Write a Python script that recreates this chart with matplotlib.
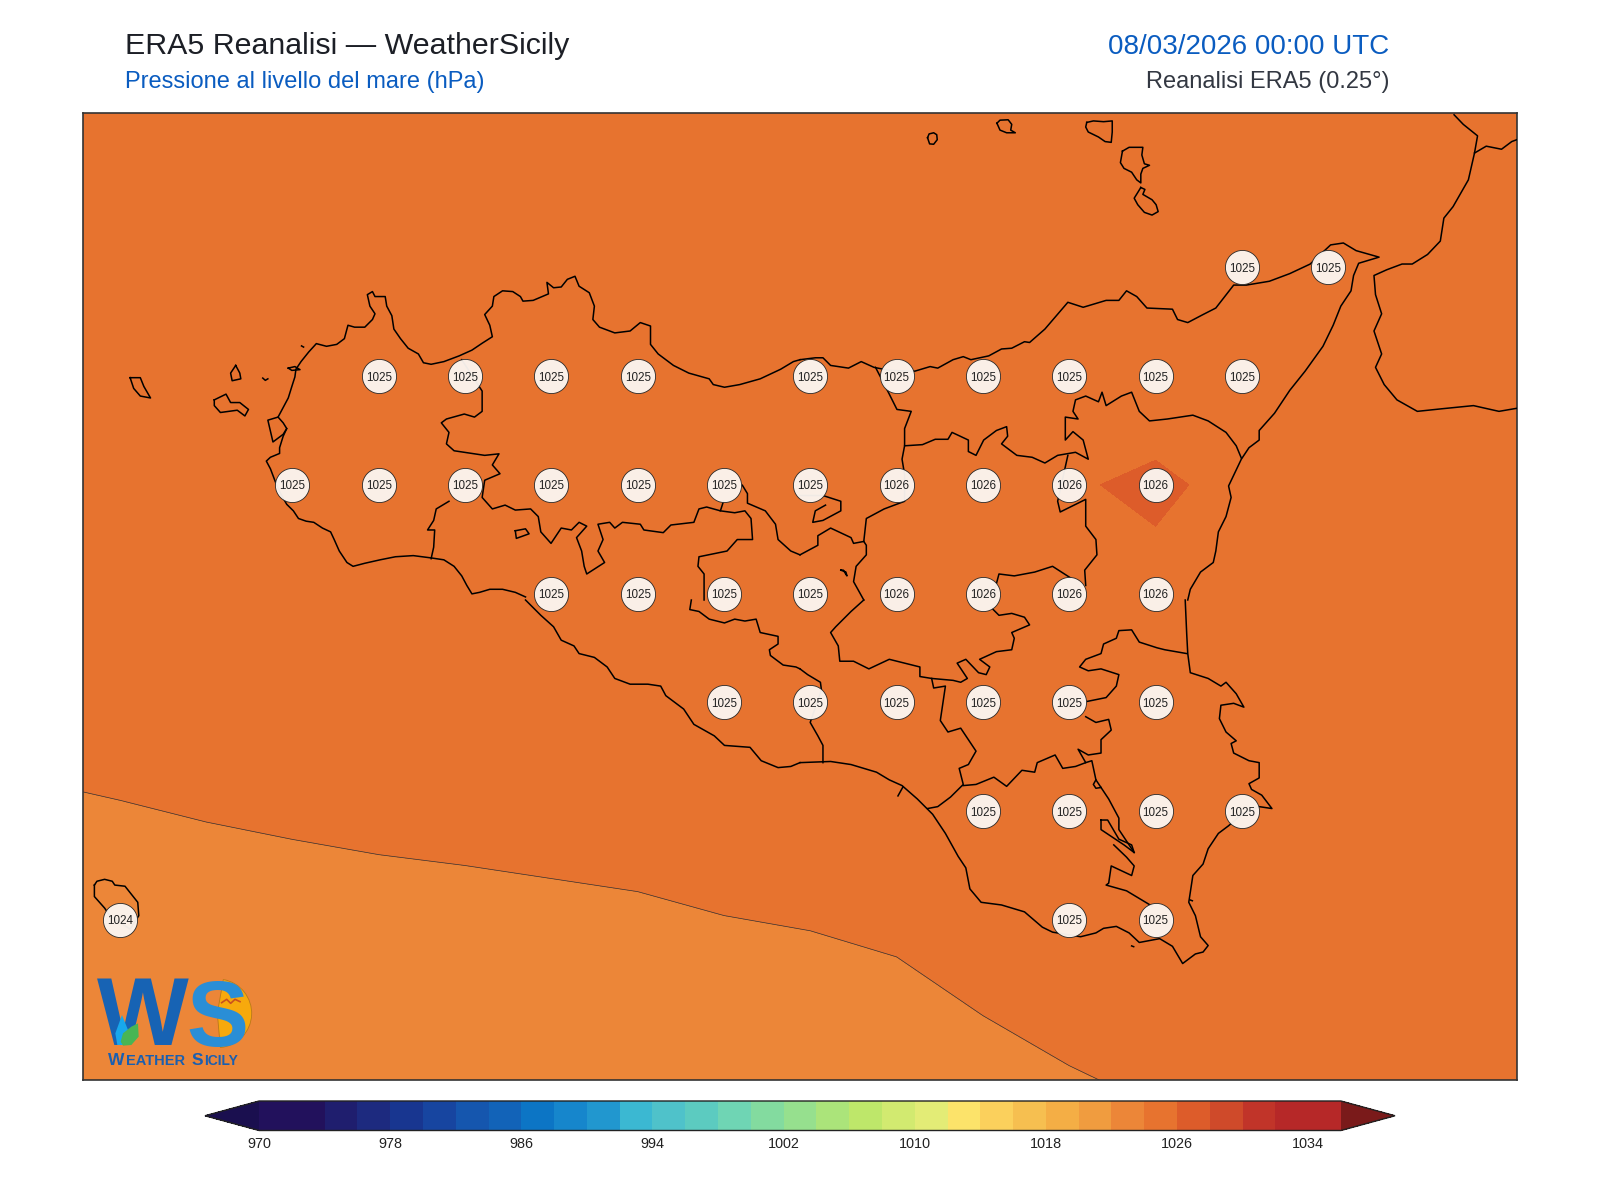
import numpy as np
import matplotlib
matplotlib.use("Agg")
import matplotlib.pyplot as plt
from matplotlib.colors import ListedColormap, BoundaryNorm
from matplotlib.patches import Polygon, Wedge

plt.rcParams["font.family"] = ["Liberation Sans", "DejaVu Sans"]

W, H = 1600, 1200
AX_L, AX_R, AX_T, AX_B = 82.6, 1517.0, 113.3, 1080.0
LON_MIN, LON_MAX = 11.892, 16.0472
LAT_MIN, LAT_MAX = 36.382, 38.604

# ---- pressure field (0.25 deg grid) ----
lons = [11.75, 12.0, 12.25, 12.5, 12.75, 13.0, 13.25, 13.5, 13.75, 14.0,
        14.25, 14.5, 14.75, 15.0, 15.25, 15.5, 15.75, 16.0, 16.25]
lats = [36.25, 36.5, 36.75, 37.0, 37.25, 37.5, 37.75, 38.0, 38.25, 38.5, 38.75]
p_3625 = [1022.36, 1022.45, 1022.55, 1022.63, 1022.70, 1022.75, 1022.81, 1022.87, 1022.98, 1023.05,
          1023.17, 1023.44, 1023.67, 1023.86, 1024.20, 1024.30, 1024.40, 1024.50, 1024.50]
p_3650 = [1022.86, 1022.95, 1023.05, 1023.13, 1023.20, 1023.25, 1023.31, 1023.37, 1023.48, 1023.55,
          1023.67, 1023.94, 1024.17, 1024.36, 1024.70, 1024.80, 1024.90, 1025.00, 1025.00]
p_3675 = [1023.36, 1023.45, 1023.55, 1023.63, 1023.70, 1023.75, 1023.81, 1023.87, 1023.98, 1024.05,
          1024.17, 1024.44, 1024.67, 1024.86, 1025.00, 1025.00, 1025.00, 1025.00, 1025.00]
p_3700 = [1023.86, 1023.95, 1024.05, 1024.13, 1024.20, 1024.25, 1024.31, 1024.37, 1024.48, 1024.55,
          1024.67, 1024.94, 1025.10, 1025.10, 1025.10, 1025.00, 1025.00, 1025.00, 1025.00]
p_3725 = [1024.36, 1024.45, 1024.55, 1024.63, 1024.70, 1024.75, 1024.81, 1024.87, 1024.98, 1025.05,
          1025.17, 1025.20, 1025.25, 1025.30, 1025.20, 1025.10, 1025.00, 1024.90, 1024.90]
p_3750 = [1024.86, 1024.95, 1025.05, 1025.10, 1025.15, 1025.18, 1025.20, 1025.25, 1025.30, 1025.40,
          1025.55, 1025.65, 1025.70, 1025.51, 1025.30, 1025.20, 1025.10, 1025.00, 1025.00]
p_3775 = [1025.20, 1025.20, 1025.25, 1025.30, 1025.30, 1025.30, 1025.30, 1025.35, 1025.40, 1025.45,
          1025.55, 1025.60, 1025.83, 1026.30, 1025.52, 1025.30, 1025.20, 1025.10, 1025.00]
p_3800 = [1025.00, 1025.00, 1025.05, 1025.10, 1025.10, 1025.10, 1025.15, 1025.15, 1025.20, 1025.20,
          1025.20, 1025.20, 1025.20, 1024.97, 1025.20, 1025.10, 1025.00, 1025.00, 1025.00]
p_3825 = [1024.90, 1024.90, 1024.90, 1024.95, 1025.00, 1025.00, 1025.00, 1025.00, 1025.00, 1025.05,
          1025.05, 1025.05, 1025.05, 1025.05, 1025.05, 1025.05, 1025.00, 1025.00, 1025.00]
p_3850 = [1024.90] * 19
p_3875 = [1024.90] * 19

# ---- grid point labels ----
label_lon = [15.25, 15.5,
             12.75, 13.0, 13.25, 13.5, 14.0, 14.25, 14.5, 14.75, 15.0, 15.25,
             12.5, 12.75, 13.0, 13.25, 13.5, 13.75, 14.0, 14.25, 14.5, 14.75, 15.0,
             13.25, 13.5, 13.75, 14.0, 14.25, 14.5, 14.75, 15.0,
             13.75, 14.0, 14.25, 14.5, 14.75, 15.0,
             14.5, 14.75, 15.0, 15.25,
             12.0, 14.75, 15.0]
label_lat = [38.25] * 2 + [38.0] * 10 + [37.75] * 11 + [37.5] * 8 + [37.25] * 6 + [37.0] * 4 + [36.75] * 3
label_val = [1025, 1025,
             1025, 1025, 1025, 1025, 1025, 1025, 1025, 1025, 1025, 1025,
             1025, 1025, 1025, 1025, 1025, 1025, 1025, 1026, 1026, 1026, 1026,
             1025, 1025, 1025, 1025, 1026, 1026, 1026, 1026,
             1025, 1025, 1025, 1025, 1025, 1025,
             1025, 1025, 1025, 1025,
             1024, 1025, 1025]

# ---- colour scale ----
levels = list(range(970, 1038, 2))
band_colors = ["#22115c", "#22115c", "#1f1e6e", "#1d2a7f", "#183690", "#1745a0", "#1556ae", "#1263b8",
               "#0c75c5", "#1686cc", "#2197cf", "#3bb8d2", "#4fc2ca", "#5ccbc0", "#6fd5b4", "#83db9f",
               "#96e08e", "#abe47a", "#bee76a", "#d2ea70", "#e3ec76", "#fce36a", "#fbd05c", "#f6bf50",
               "#f4ae45", "#f09c3f", "#ec8638", "#e7732f", "#dd5c2a", "#cf4a2a", "#c13429", "#b62828",
               "#b62828"]
cbar_ticks = [970, 978, 986, 994, 1002, 1010, 1018, 1026, 1034]

# ---- outlines, one list per quarter of the image ----
NW_COAST = [
    [(1030, 1560), (1010, 1548), (985, 1540), (960, 1540), (940, 1548), (925, 1552), (915, 1530), (905, 1505),
     (890, 1480), (870, 1463), (845, 1458), (810, 1452), (775, 1455), (745, 1463), (715, 1472), (692, 1480),
     (680, 1470), (665, 1440), (655, 1410), (648, 1390), (632, 1380), (615, 1365), (600, 1362), (585, 1355),
     (575, 1335), (562, 1318), (550, 1290), (540, 1260), (530, 1225), (522, 1205), (530, 1195), (548, 1185),
     (548, 1170), (555, 1140), (562, 1120), (555, 1105), (545, 1090), (555, 1065), (565, 1040), (572, 1010),
     (578, 985), (580, 965), (590, 945), (605, 920), (620, 898), (640, 905), (660, 900), (675, 885), (682, 850),
     (695, 855), (715, 855), (730, 835), (735, 820), (725, 800), (720, 770), (730, 762), (735, 775), (755, 775),
     (758, 800), (768, 825), (772, 860), (785, 885), (800, 910), (820, 925), (830, 948), (845, 952), (870, 945),
     (900, 930), (925, 915), (945, 897), (965, 880), (960, 850), (950, 822), (965, 800), (968, 775), (985, 760),
     (1005, 762), (1020, 775), (1025, 787), (1045, 785), (1075, 768), (1072, 738), (1085, 752), (1100, 750),
     (1112, 730), (1127, 722), (1135, 748), (1155, 765), (1165, 800), (1162, 835), (1175, 855), (1205, 870),
     (1235, 865), (1255, 843), (1275, 852), (1275, 900), (1290, 925), (1320, 955), (1350, 975), (1390, 990),
     (1398, 1005), (1420, 1012), (1450, 1005), (1490, 990), (1530, 965), (1555, 945), (1568, 940)],
    [(545, 1090), (525, 1098), (535, 1155), (555, 1135), (562, 1120)],
    [(255, 987), (275, 987), (282, 1010), (295, 1040), (275, 1035), (262, 1015), (255, 987)],
    [(462, 955), (470, 975), (472, 990), (455, 995), (452, 975), (462, 955)],
    [(420, 1045), (443, 1030), (452, 1052), (470, 1052), (487, 1070), (480, 1087), (465, 1072), (432, 1078),
     (420, 1060), (420, 1045)],
    [(515, 988), (520, 994), (525, 990)],
    [(565, 962), (578, 958), (588, 966), (572, 968), (565, 962)],
    [(591, 904), (595, 907)],
]
NW_PROV = [
    [(905, 940), (945, 1022), (945, 1075), (930, 1090), (910, 1082), (875, 1095), (865, 1105), (880, 1130),
     (875, 1160), (890, 1178), (950, 1190), (978, 1186), (965, 1215), (980, 1238), (950, 1255), (945, 1300),
     (965, 1330), (990, 1320), (1010, 1333), (1040, 1330), (1055, 1350), (1060, 1390), (1080, 1420), (1100, 1380),
     (1120, 1385), (1135, 1365), (1150, 1375), (1130, 1405), (1140, 1440), (1145, 1480), (1150, 1500), (1185, 1470),
     (1172, 1440), (1182, 1410), (1172, 1370), (1195, 1365), (1205, 1380), (1220, 1365), (1255, 1370), (1262, 1385),
     (1300, 1392), (1315, 1372), (1360, 1365), (1370, 1330), (1385, 1325), (1412, 1335), (1418, 1310)],
    [(880, 1310), (855, 1330), (850, 1360), (838, 1385), (852, 1385), (850, 1430), (845, 1460)],
    [(1412, 1335), (1440, 1340), (1460, 1335), (1472, 1355), (1475, 1410), (1445, 1410), (1425, 1440), (1370, 1455),
     (1368, 1480), (1380, 1500), (1380, 1568)],
    [(1455, 1268), (1465, 1290), (1465, 1315), (1500, 1335), (1520, 1370), (1525, 1410), (1550, 1440), (1568, 1450)],
    [(1010, 1387), (1030, 1382), (1037, 1395), (1012, 1407), (1010, 1387)],
]
NE_COAST = [
    [(0, 940), (30, 935), (45, 935), (60, 955), (95, 962), (120, 945), (145, 960), (175, 968), (225, 970), (255, 958),
     (270, 962), (300, 940), (320, 932), (335, 940), (370, 930), (395, 912), (415, 910), (440, 893), (450, 895),
     (480, 860), (525, 790), (555, 803), (600, 785), (625, 785), (640, 760), (660, 775), (680, 805), (730, 808),
     (740, 835), (760, 843), (790, 822), (815, 805), (850, 745), (875, 745), (920, 735), (960, 715), (1000, 690),
     (1040, 640), (1065, 635), (1090, 655), (1135, 672), (1095, 688), (1085, 720), (1080, 760), (1060, 800),
     (1045, 850), (1025, 905), (990, 970), (960, 1020), (930, 1080), (900, 1125), (900, 1150), (880, 1170),
     (865, 1200), (840, 1270), (845, 1300), (835, 1350), (820, 1390), (815, 1440), (810, 1470), (785, 1495),
     (765, 1540), (760, 1568)],
    [(250, 360), (253, 350), (262, 347), (268, 352), (269, 365), (262, 377), (254, 376), (250, 360)],
    [(386, 322), (392, 314), (408, 313), (415, 325), (413, 340), (422, 347), (405, 347), (392, 340), (386, 322)],
    [(562, 320), (575, 316), (595, 318), (612, 316), (612, 345), (610, 372), (598, 370), (585, 358), (565, 345),
     (560, 332), (562, 320)],
    [(632, 395), (645, 385), (665, 385), (672, 385), (670, 405), (675, 428), (685, 432), (672, 440), (668, 455),
     (668, 478), (660, 470), (650, 450), (635, 440), (628, 425), (632, 395)],
    [(668, 490), (676, 495), (672, 508), (690, 522), (698, 535), (702, 553), (690, 562), (675, 555), (662, 535),
     (655, 518), (662, 503), (668, 490)],
    [(1282, 300), (1300, 325), (1328, 355), (1322, 400), (1310, 470), (1280, 540), (1262, 570), (1255, 630),
     (1230, 665), (1200, 690), (1180, 690), (1150, 705), (1125, 720), (1128, 770), (1140, 820), (1125, 865),
     (1140, 925), (1128, 960), (1145, 1005), (1170, 1045), (1210, 1075), (1260, 1068), (1320, 1060), (1370, 1075),
     (1405, 1067)],
    [(1322, 400), (1345, 382), (1375, 390), (1395, 370), (1405, 365)],
]
NE_PROV = [
    [(148, 960), (175, 1030), (190, 1070), (218, 1075), (205, 1120), (205, 1165), (240, 1162), (265, 1148), (290, 1148),
     (298, 1130), (330, 1150), (330, 1180), (345, 1190), (360, 1150), (385, 1125), (405, 1115), (407, 1140), (395, 1160),
     (425, 1190), (455, 1195), (480, 1210), (505, 1190), (540, 1182), (565, 1200), (555, 1150), (535, 1128), (520, 1150),
     (520, 1090), (545, 1095), (535, 1075), (540, 1045), (560, 1035), (585, 1050), (592, 1025), (600, 1060), (630, 1035),
     (650, 1025), (665, 1075), (685, 1100), (720, 1095), (770, 1085), (800, 1100), (835, 1130), (855, 1165), (865, 1197)],
    [(525, 1190), (505, 1310), (510, 1338), (560, 1305), (560, 1375), (580, 1410), (582, 1450), (558, 1490), (560, 1530)],
    [(530, 1510), (495, 1480), (460, 1495), (420, 1505), (390, 1500), (380, 1550)],
    [(205, 1165), (200, 1200), (205, 1240), (205, 1310), (165, 1330), (130, 1355), (125, 1415), (130, 1425), (130, 1450),
     (110, 1480), (105, 1520), (125, 1568)],
    [(0, 1450), (35, 1425), (35, 1400), (60, 1380), (100, 1405), (105, 1420), (125, 1415)],
    [(0, 1295), (45, 1295), (80, 1310), (80, 1335), (45, 1360), (25, 1365), (30, 1335), (50, 1320)],
    [(80, 1490), (90, 1495), (92, 1505), (85, 1490), (80, 1490)],
]
SW_COAST = [
    [(1030, 0), (1060, 40), (1085, 70), (1100, 105), (1125, 120), (1135, 140), (1165, 150), (1190, 175), (1205, 205),
     (1235, 220), (1270, 220), (1295, 225), (1305, 250), (1340, 285), (1360, 325), (1400, 355), (1420, 380), (1470, 385),
     (1492, 420), (1525, 438), (1550, 435), (1568, 425)],
    [(185, 745), (190, 735), (205, 730), (220, 735), (225, 745), (245, 748), (270, 790), (272, 825), (255, 860),
     (215, 825), (205, 805), (185, 775), (185, 745)],
]
SW_PROV = [
    [(1355, 0), (1352, 25), (1370, 30), (1390, 50), (1420, 60), (1440, 50), (1460, 55), (1482, 50), (1490, 85),
     (1525, 95), (1525, 115), (1508, 130), (1510, 145), (1535, 170), (1560, 175), (1568, 180)],
]
SE_COAST = [
    [(0, 425), (60, 422), (100, 430), (150, 450), (175, 470), (200, 485), (230, 520), (260, 560), (285, 610), (310, 670),
     (325, 700), (333, 755), (355, 790), (395, 797), (440, 815), (475, 855), (495, 868), (550, 880), (580, 870), (595, 858),
     (620, 853), (645, 870), (665, 895), (705, 885), (730, 905), (750, 950), (775, 925), (790, 920), (800, 903), (785, 880),
     (775, 825), (762, 790), (770, 720), (790, 690), (800, 650), (820, 610), (840, 590), (866, 560), (900, 540), (925, 545),
     (905, 510), (885, 495), (880, 480), (900, 465), (900, 425), (880, 420), (850, 400), (845, 375), (855, 368), (835, 345),
     (822, 310), (825, 275), (850, 270), (870, 280), (855, 245), (835, 215), (825, 225), (800, 205), (765, 190), (760, 140),
     (758, 90), (755, 0)],
    [(192, 512), (202, 488)],
    [(650, 904), (654, 906)],
    [(765, 784), (769, 786)],
]
SE_PROV = [
    [(0, 180), (15, 195), (40, 215), (42, 235), (20, 320), (35, 355), (45, 380), (45, 425)],
    [(125, 0), (100, 30), (70, 70), (60, 85), (75, 120), (78, 160), (105, 160), (135, 180), (175, 155), (205, 165), (235, 175),
     (235, 200), (258, 205), (300, 210), (315, 215), (328, 205), (308, 165), (325, 155), (350, 190), (365, 195), (372, 175),
     (352, 155), (385, 135), (415, 130), (420, 100), (415, 85), (450, 65), (440, 45), (415, 35), (390, 40), (375, 20)],
    [(258, 205), (262, 230), (285, 225), (275, 315), (290, 345), (315, 335), (345, 395), (330, 430), (312, 440), (320, 482),
     (295, 515), (270, 540), (250, 545)],
    [(320, 485), (345, 482), (380, 463), (405, 487), (435, 445), (460, 450), (465, 425), (500, 405), (515, 440), (540, 435),
     (560, 425), (545, 390), (565, 405), (590, 400), (590, 365), (610, 340), (605, 312), (580, 320), (560, 305)],
    [(563, 265), (600, 255), (620, 225), (625, 195), (590, 180), (565, 185), (548, 175), (560, 155), (590, 140), (595, 115),
     (620, 100), (625, 80), (650, 78), (665, 110), (700, 125), (715, 130), (758, 140)],
    [(560, 425), (572, 420), (580, 470), (590, 490), (605, 520), (625, 570), (625, 600), (655, 660)],
    [(590, 575), (603, 575), (625, 625), (650, 640), (655, 660), (635, 640), (590, 600), (590, 575)],
    [(615, 640), (640, 672), (655, 695), (650, 720), (610, 695), (605, 740), (600, 745), (640, 760), (665, 780), (690, 800)],
    [(580, 470), (575, 482), (580, 492), (590, 490)],
]


def px_to_lonlat(points, off_x, off_y):
    # quarter-image trace -> lon/lat
    pts = np.array(points, dtype=float)
    x = off_x + pts[:, 0] / 1.96
    y = off_y + pts[:, 1] / (1568 / 600)
    lon = LON_MIN + (x - AX_L) / (AX_R - AX_L) * (LON_MAX - LON_MIN)
    lat = LAT_MAX - (y - AX_T) / (AX_B - AX_T) * (LAT_MAX - LAT_MIN)
    return lon, lat


fig = plt.figure(figsize=(16, 12), dpi=100, facecolor="white")
ax = fig.add_axes([AX_L / W, 1 - AX_B / H, (AX_R - AX_L) / W, (AX_B - AX_T) / H])

field = np.array([p_3625, p_3650, p_3675, p_3700, p_3725, p_3750, p_3775, p_3800, p_3825, p_3850, p_3875])
cmap = ListedColormap(band_colors)
cmap.set_under("#1a0f4f")
cmap.set_over("#7a1a1a")
norm = BoundaryNorm(levels, cmap.N)
cf = ax.contourf(lons, lats, field, levels=levels, cmap=cmap, norm=norm, extend="both")
ax.contour(lons, lats, field, levels=levels[1::2], colors="#333333", linewidths=0.5)

for lines, ox, oy in [(NW_COAST, 0, 0), (NE_COAST, 800, 0), (SW_COAST, 0, 600), (SE_COAST, 800, 600),
                      (NW_PROV, 0, 0), (NE_PROV, 800, 0), (SW_PROV, 0, 600), (SE_PROV, 800, 600)]:
    for line in lines:
        lo, la = px_to_lonlat(line, ox, oy)
        ax.plot(lo, la, color="black", lw=1.1, zorder=3, solid_joinstyle="round")

ax.plot(label_lon, label_lat, ls="none", marker="o", ms=24.6, mfc="#fbf5f0", mec="#222222", mew=0.6, alpha=0.96, zorder=4)
for lo, la, v in zip(label_lon, label_lat, label_val):
    ax.text(lo, la, str(v), ha="center", va="center_baseline", fontsize=8.4, color="#222222", zorder=5)

ax.set_xlim(LON_MIN, LON_MAX)
ax.set_ylim(LAT_MIN, LAT_MAX)
ax.set_xticks([])
ax.set_yticks([])
for s in ax.spines.values():
    s.set_color("#333333")
    s.set_linewidth(1.2)

# colour bar, the axes has to hold the two tips as well
cax = fig.add_axes([205 / W, 1 - 1130.5 / H, (1395 - 205) / W, 29.5 / H])
cb = fig.colorbar(cf, cax=cax, orientation="horizontal", extendfrac=0.05, ticks=cbar_ticks, drawedges=False)
cb.minorticks_off()
cb.ax.tick_params(length=0, labelsize=10.4, pad=5, labelcolor="#222222")
cb.set_ticklabels([str(t) for t in cbar_ticks])
cb.outline.set_edgecolor("#222222")
cb.outline.set_linewidth(1.0)

# titles
fig.text(125 / W, 1 - 54 / H, "ERA5 Reanalisi \u2014 WeatherSicily", fontsize=21.9, color="#1c1f26", va="baseline")
fig.text(125 / W, 1 - 88 / H, "Pressione al livello del mare (hPa)", fontsize=17.05, color="#0a5cc0", va="baseline")
fig.text(1389 / W, 1 - 54 / H, "08/03/2026 00:00 UTC", fontsize=20, color="#0a5cc0", va="baseline", ha="right")
fig.text(1389 / W, 1 - 88 / H, "Reanalisi ERA5 (0.25\u00b0)", fontsize=17.05, color="#333842", va="baseline", ha="right")

# logo, drawn in the crop's own units (3 per pixel, origin at 80,960)
lax = fig.add_axes([80 / W, 1 - 1080 / H, 190 / W, 120 / H], zorder=6)
lax.set_xlim(0, 570)
lax.set_ylim(360, 0)
lax.axis("off")
lax.add_patch(Wedge((412, 160), 103, -80, 85, fc="#f7a90c", ec="#b9791a", lw=0.6, zorder=1))
lax.text(50, 256, "W", fontsize=70, fontweight="bold", color="#1763b4", va="baseline", ha="left", zorder=2)
lax.text(320, 259, "S", fontsize=67, fontweight="bold", color="#2a8ed6", va="baseline", ha="left", zorder=2)
lax.add_patch(Polygon([(106, 220), (126, 165), (144, 210), (132, 255), (112, 255)], fc="#18a8ec", ec="none", zorder=3))
lax.add_patch(Polygon([(122, 245), (129, 220), (154, 200), (174, 190), (176, 230), (154, 255), (129, 257)],
                      fc="#49b554", ec="none", zorder=3))
lax.plot([425, 440, 452, 465, 480], [128, 118, 130, 118, 125], color="#c9501e", lw=1.2, zorder=4)
lax.text(84, 315, "W", fontsize=12.5, fontweight="bold", color="#1a5fb0", va="baseline")
lax.text(137, 315, "EATHER", fontsize=10.5, fontweight="bold", color="#1a5fb0", va="baseline")
lax.text(336, 315, "S", fontsize=12.5, fontweight="bold", color="#1a5fb0", va="baseline")
lax.text(373, 315, "ICILY", fontsize=10, fontweight="bold", color="#1a5fb0", va="baseline")

fig.savefig("out.png", dpi=100)
